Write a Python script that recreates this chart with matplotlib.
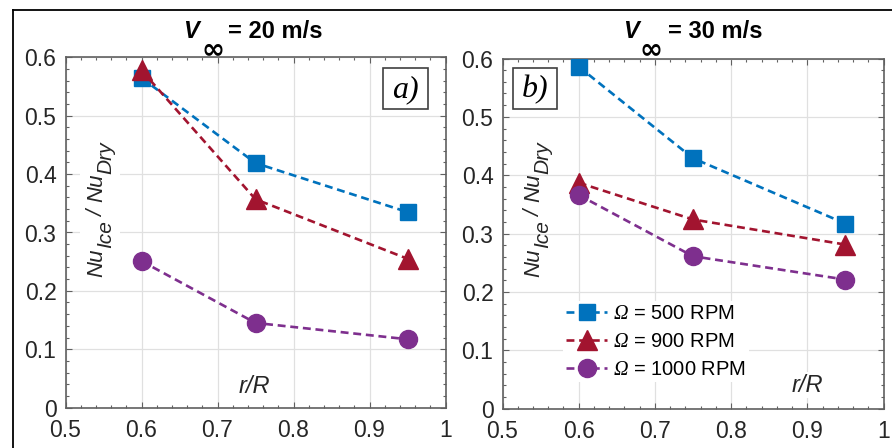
import matplotlib
matplotlib.use("Agg")
import matplotlib.pyplot as plt
from matplotlib.ticker import MultipleLocator
from matplotlib.lines import Line2D
from matplotlib.patches import Rectangle

plt.rcParams['font.family'] = ['Liberation Sans', 'DejaVu Sans']
plt.rcParams['mathtext.fontset'] = 'custom'
plt.rcParams['mathtext.rm'] = 'Liberation Sans'
plt.rcParams['mathtext.it'] = 'Liberation Sans:italic'
plt.rcParams['mathtext.bf'] = 'Liberation Sans:bold'
plt.rcParams['mathtext.sf'] = 'Liberation Serif:italic'

# ---- data ----
r_R = [0.6, 0.75, 0.95]
series_labels = [r'$\mathsf{\Omega}$ = 500 RPM', r'$\mathsf{\Omega}$ = 900 RPM', r'$\mathsf{\Omega}$ = 1000 RPM']
v20_500 = [0.565, 0.419, 0.335]
v20_900 = [0.578, 0.357, 0.255]
v20_1000 = [0.251, 0.145, 0.117]
v30_500 = [0.586, 0.429, 0.317]
v30_900 = [0.387, 0.324, 0.281]
v30_1000 = [0.366, 0.261, 0.221]
speeds = ['= 20 m/s', '= 30 m/s']
panel_tags = ['a)', 'b)']
xticks = [0.5, 0.6, 0.7, 0.8, 0.9, 1.0]
xticklabels = ['0.5', '0.6', '0.7', '0.8', '0.9', '1']
yticks = [0, 0.1, 0.2, 0.3, 0.4, 0.5, 0.6]
yticklabels = ['0', '0.1', '0.2', '0.3', '0.4', '0.5', '0.6']

colors = ['#0072BD', '#A2142F', '#7E2F8E']
markers = ['s', '^', 'o']
msizes = [11, 14.5, 13]

W, H = 892, 448
fig = plt.figure(figsize=(W / 100, H / 100), dpi=100)
renderer = fig.canvas.get_renderer()


def fx(x):
    return x / W


def fy(y):
    return 1 - y / H


# outer frame (top and left borders)
fig.add_artist(Line2D([fx(13), fx(13)], [0, fy(10)], transform=fig.transFigure, color='black', lw=1.3))
fig.add_artist(Line2D([fx(13), 1], [fy(10), fy(10)], transform=fig.transFigure, color='black', lw=1.3))

axes_px = [(65.5, 57.5, 445.5, 407.5), (502.5, 58.5, 883.5, 408.5)]
data = [[v20_500, v20_900, v20_1000], [v30_500, v30_900, v30_1000]]
title_x = [(183, 201, 228), (623, 639, 668)]
tag_box = [(383, 68, 428, 109), (513, 68, 557, 109)]
rR_pos = [(254, 386), (807, 385)]


def text_width(s, size, style='normal'):
    t = fig.text(0, 0, s, fontsize=size, style=style)
    w = t.get_window_extent(renderer).width
    t.remove()
    return w


def draw_ylabel(xbase, ycenter):
    main, sub = 16, 15
    pieces = [('Nu', main, 0), ('Ice', sub, 9), (' / ', main, 0), ('Nu', main, 0), ('Dry', sub, 9)]
    widths = [text_width(s, sz, 'italic') for s, sz, _ in pieces]
    total = sum(widths)
    y = ycenter + total / 2
    for (s, sz, off), w in zip(pieces, widths):
        fig.text(fx(xbase + off), fy(y), s, fontsize=sz, style='italic', rotation=90,
                 rotation_mode='anchor', ha='left', va='baseline', color='#262626')
        y -= w


for i, (x0, y0, x1, y1) in enumerate(axes_px):
    ax = fig.add_axes([fx(x0), fy(y1), (x1 - x0) / W, (y1 - y0) / H])
    for j in range(3):
        ax.plot(r_R, data[i][j], linestyle=(0, (3, 1.8)), lw=1.9, color=colors[j],
                marker=markers[j], markersize=msizes[j], label=series_labels[j], zorder=3)
    ax.set_xlim(0.5, 1.0)
    ax.set_ylim(0, 0.6)
    ax.set_xticks(xticks)
    ax.set_xticklabels(xticklabels)
    ax.set_yticks(yticks)
    ax.set_yticklabels(yticklabels)
    ax.xaxis.set_minor_locator(MultipleLocator(0.02))
    ax.yaxis.set_minor_locator(MultipleLocator(0.02))
    ax.tick_params(which='both', direction='in', top=True, right=True, colors='#606060',
                   labelcolor='#262626', labelsize=16.5)
    ax.tick_params(which='major', length=4, width=0.8)
    ax.tick_params(which='minor', length=2, width=0.8)
    ax.tick_params(axis='y', which='major', pad=6.5)
    ax.tick_params(axis='x', which='major', pad=8.5)
    ax.grid(True, which='major', color='#e0e0e0', lw=0.9)
    ax.set_axisbelow(True)
    for s in ax.spines.values():
        s.set_color('#606060')
        s.set_linewidth(1.2)

    # white patch behind rotated y label
    ax.add_patch(Rectangle((fx(80), fy(290)), fx(120) - fx(80), fy(128) - fy(290),
                           transform=fig.transFigure, facecolor='white', edgecolor='none', zorder=1))
    draw_ylabel(x0 + 36.5, 209)

    # r/R label
    rx, ry = rR_pos[i]
    fig.text(fx(rx), fy(ry), 'r/R', fontsize=17, style='italic', ha='center', va='center',
             color='#262626', bbox=dict(facecolor='white', edgecolor='none', pad=1))

    # title: V_inf = .. m/s
    vx, ix, sx = title_x[i]
    fig.text(fx(vx), fy(38.5), 'V', fontsize=17, fontweight='bold', style='italic',
             ha='left', va='baseline', color='black')
    fig.text(fx(ix), fy(49.5), '\u221e', fontsize=20, family='DejaVu Sans', fontweight='bold',
             ha='left', va='center', color='black')
    fig.text(fx(sx), fy(38.5), speeds[i], fontsize=17, fontweight='bold',
             ha='left', va='baseline', color='black')

    # panel tag
    bx0, by0, bx1, by1 = tag_box[i]
    ax.add_patch(Rectangle((fx(bx0), fy(by1)), fx(bx1) - fx(bx0), fy(by0) - fy(by1),
                           transform=fig.transFigure, facecolor='white', edgecolor='#404040',
                           lw=1.2, zorder=5))
    ax.text(fx((bx0 + bx1) / 2), fy((by0 + by1) / 2 + 1), panel_tags[i], transform=fig.transFigure,
            ha='center', va='center', fontsize=23, family='Liberation Serif', style='italic',
            color='black', zorder=6)

    if i == 1:
        leg = ax.legend(loc='upper left', bbox_to_anchor=(fx(563), fy(301)),
                        bbox_transform=fig.transFigure, frameon=True, facecolor='white',
                        edgecolor='none', framealpha=1, fancybox=False,
                        fontsize=14.5, handlelength=2.05, handletextpad=0.3, labelspacing=0.45,
                        borderpad=0.15, borderaxespad=0)
        leg.set_zorder(4)

fig.savefig('out.png', dpi=100)
